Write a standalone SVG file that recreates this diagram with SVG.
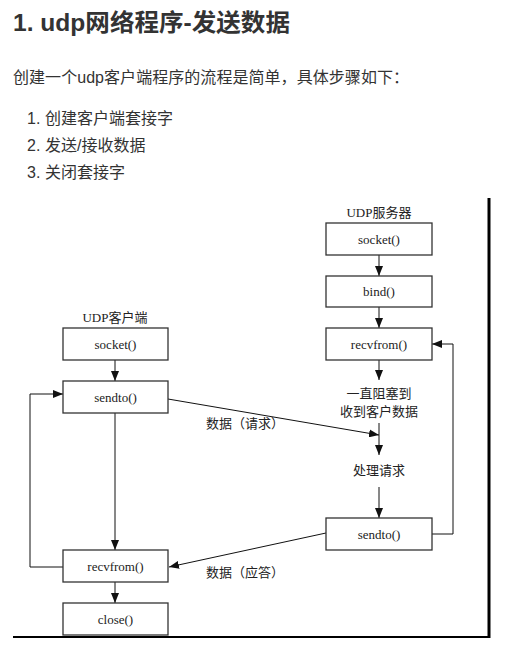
<svg xmlns="http://www.w3.org/2000/svg" width="516" height="656" viewBox="0 0 516 656">
<style>
.title{font-family:"Liberation Sans","Noto Sans CJK SC",sans-serif;font-weight:bold;font-size:24px;fill:#333}
.p{font-family:"Liberation Sans","Noto Sans CJK SC",sans-serif;font-size:16px;fill:#333}
.d{font-family:"Liberation Serif","Noto Sans CJK SC",serif;font-size:13px;fill:#222;text-anchor:middle}
.box rect{fill:#fff;stroke:#333;stroke-width:1.3}
.c{fill:none;stroke:#111;stroke-width:1}
</style>
<defs>
<marker id="ah" markerUnits="userSpaceOnUse" markerWidth="10" markerHeight="8" refX="10" refY="4" orient="auto">
<path d="M0,0 L10,4 L0,8 z" fill="#111"/>
</marker>
</defs>
<rect width="516" height="656" fill="#fff"/>
<text class="title" x="13" y="31" textLength="277" lengthAdjust="spacingAndGlyphs">1. udp网络程序-发送数据</text>
<text class="p" x="13" y="83" textLength="396">创建一个udp客户端程序的流程是简单，具体步骤如下：</text>
<text class="p" x="27" y="124">1.</text><text class="p" x="45" y="124">创建客户端套接字</text>
<text class="p" x="27" y="151">2.</text><text class="p" x="45" y="151">发送/接收数据</text>
<text class="p" x="27" y="178">3.</text><text class="p" x="45" y="178">关闭套接字</text>

<g id="frame">
<line x1="489" y1="198" x2="489" y2="638" stroke="#000" stroke-width="3"/>
<line x1="13" y1="637" x2="490" y2="637" stroke="#000" stroke-width="2"/>
</g>

<g id="connectors">
<path class="c" d="M379,255 V276" marker-end="url(#ah)"/>
<path class="c" d="M379,307 V328" marker-end="url(#ah)"/>
<path class="c" d="M379,360 V380" marker-end="url(#ah)"/>
<path class="c" d="M379,423 V455" marker-end="url(#ah)"/>
<path class="c" d="M379,487 V518" marker-end="url(#ah)"/>
<path class="c" d="M432,534 H453 V344 H432" marker-end="url(#ah)"/>
<path class="c" d="M115,360 V381" marker-end="url(#ah)"/>
<path class="c" d="M115,413 V550" marker-end="url(#ah)"/>
<path class="c" d="M115,582 V603" marker-end="url(#ah)"/>
<path class="c" d="M63,567 H30 V394 H63" marker-end="url(#ah)"/>
<path class="c" d="M168,399 L379,435" marker-end="url(#ah)"/>
<path class="c" d="M326,533 L169,567" marker-end="url(#ah)"/>
</g>

<text class="d" x="379" y="217">UDP服务器</text>
<text class="d" x="115" y="322">UDP客户端</text>
<text class="d" x="379" y="398">一直阻塞到</text>
<text class="d" x="379" y="416">收到客户数据</text>
<text class="d" x="379" y="475">处理请求</text>
<text class="d" x="245" y="428">数据（请求）</text>
<text class="d" x="245" y="577">数据（应答）</text>

<g id="s_socket" class="box"><rect x="326" y="223" width="106" height="32"/><text class="d" x="379" y="243.5">socket()</text></g>
<g id="s_bind" class="box"><rect x="326" y="276" width="106" height="31"/><text class="d" x="379" y="296">bind()</text></g>
<g id="s_recvfrom" class="box"><rect x="326" y="328" width="106" height="32"/><text class="d" x="379" y="348.5">recvfrom()</text></g>
<g id="s_sendto" class="box"><rect x="326" y="518" width="106" height="32"/><text class="d" x="379" y="538.5">sendto()</text></g>
<g id="c_socket" class="box"><rect x="63" y="328" width="105" height="32"/><text class="d" x="115.5" y="348.5">socket()</text></g>
<g id="c_sendto" class="box"><rect x="63" y="381" width="105" height="32"/><text class="d" x="115.5" y="401.5">sendto()</text></g>
<g id="c_recvfrom" class="box"><rect x="63" y="550" width="105" height="32"/><text class="d" x="115.5" y="570.5">recvfrom()</text></g>
<g id="c_close" class="box"><rect x="63" y="603" width="105" height="32"/><text class="d" x="115.5" y="623.5">close()</text></g>
</svg>
